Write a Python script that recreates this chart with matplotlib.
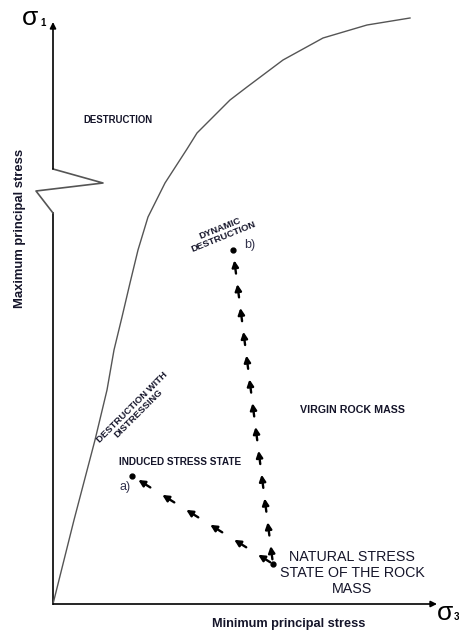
"""Stress path diagram: principal stress space with destruction envelope."""

import matplotlib
matplotlib.use("Agg")
import matplotlib.pyplot as plt
import numpy as np

# envelope of destruction (sigma3, sigma1)
env_s3 = [0, 21, 42, 54, 61, 69, 77, 85, 95, 112, 134, 144, 157, 177, 194,
          230, 270, 314, 357]
env_s1 = [0, 84, 164, 214, 254, 287, 321, 354, 387, 421, 455, 471, 484, 504,
          517, 544, 566, 579, 586]

# stress states (sigma3, sigma1)
natural_state = (220, 40)
induced_state = (79, 128)
dynamic_state = (180, 354)

# axis break on the sigma1 axis
break_s3 = [0, 50, -17, 0]
break_s1 = [435, 421, 413, 391]

TXT = "#15152a"
BOLD = dict(family=["Liberation Sans", "DejaVu Sans"], fontweight="bold", color=TXT)

plt.rcParams["font.family"] = ["Liberation Sans", "DejaVu Sans"]

fig = plt.figure(figsize=(4.59, 6.31), dpi=100)
ax = fig.add_axes([0, 0, 1, 1])
ax.set_xlim(-53, 406)
ax.set_ylim(-27, 604)
ax.axis("off")

# axes with arrows
ax.plot([0, 0], [0, break_s1[-1]], color="black", lw=1.2)
ax.plot(break_s3, break_s1, color="#555555", lw=1.2)
ax.annotate("", xy=(0, 582), xytext=(0, break_s1[0]),
            arrowprops=dict(arrowstyle="-|>", color="black", lw=1.2,
                            mutation_scale=9, shrinkA=0, shrinkB=0))
ax.annotate("", xy=(384, 0), xytext=(0, 0),
            arrowprops=dict(arrowstyle="-|>", color="black", lw=1.2,
                            mutation_scale=9, shrinkA=0, shrinkB=0))

# envelope
ax.plot(env_s3, env_s1, color="#555555", lw=1.0, solid_joinstyle="round")


def arrow_path(start, end, tails, step):
    start = np.asarray(start, float)
    end = np.asarray(end, float)
    for t in tails:
        p0 = start + (end - start) * t
        p1 = start + (end - start) * (t + step)
        ax.annotate("", xy=p1, xytext=p0,
                    arrowprops=dict(arrowstyle="-|>", color="black", lw=1.7,
                                    mutation_scale=9.5, shrinkA=0, shrinkB=0))


arrow_path(natural_state, induced_state, np.linspace(0.02, 0.87, 6), 0.085)
arrow_path(natural_state, dynamic_state, np.linspace(0.015, 0.925, 13), 0.042)

for pt in (natural_state, induced_state, dynamic_state):
    ax.plot(*pt, "o", color="black", ms=3.5)

# axis symbols
ax.text(-23, 586, "σ", fontsize=19, color="black", ha="center", va="center")
ax.text(-10, 581, "1", fontsize=7, fontweight="bold", color="black",
        ha="center", va="center")
ax.text(392, -9, "σ", fontsize=19, color="black", ha="center", va="center")
ax.text(406, -13, "3", fontsize=7, fontweight="bold", color="black",
        ha="right", va="center")

# axis titles
ax.text(-33, 376, "Maximum principal stress", rotation=90, fontsize=9.4,
        ha="center", va="center", **BOLD)
ax.text(236, -20, "Minimum principal stress", fontsize=9.2,
        ha="center", va="center", **BOLD)

# region and state labels
ax.text(65, 484, "DESTRUCTION", fontsize=6.9, ha="center", va="center", **BOLD)
ax.text(127, 142, "INDUCED STRESS STATE", fontsize=7.2, ha="center",
        va="center", **BOLD)
ax.text(82, 194, "DESTRUCTION WITH\nDISTRESSING", fontsize=6.8, rotation=45,
        ha="center", va="center", linespacing=1.0, **BOLD)
ax.text(169, 371, "DYNAMIC\nDESTRUCTION", fontsize=6.8, rotation=22,
        ha="center", va="center", linespacing=1.0, **BOLD)
ax.text(299, 194, "VIRGIN ROCK MASS", fontsize=7.7, ha="center",
        va="center", **BOLD)
ax.text(299, 31, "NATURAL STRESS\nSTATE OF THE ROCK\nMASS", fontsize=10.3,
        ha="center", va="center", linespacing=1.15, color=TXT)
ax.text(72, 117, "a)", fontsize=9, ha="center", va="center", color="#33334d")
ax.text(197, 359, "b)", fontsize=9, ha="center", va="center", color="#33334d")

fig.savefig("out.png", dpi=100)
